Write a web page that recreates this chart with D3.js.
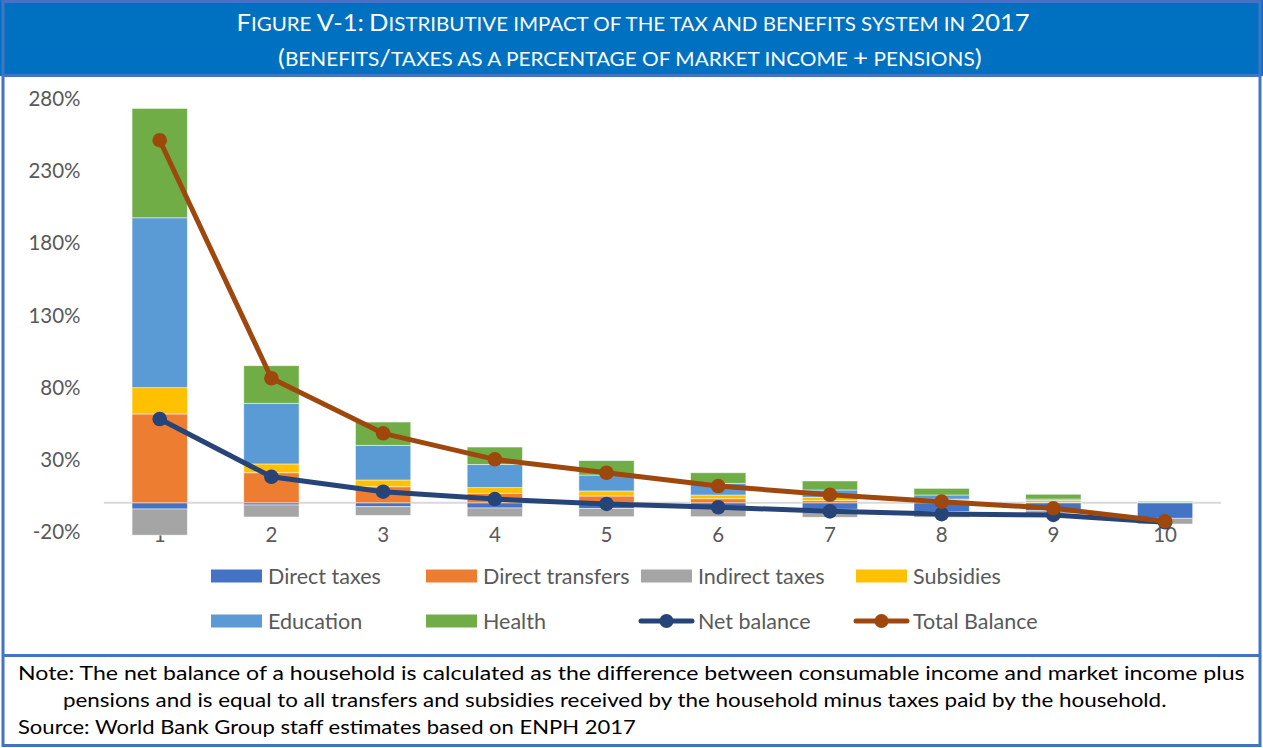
<!DOCTYPE html>
<html>
<head>
<meta charset="utf-8">
<script src="https://cdn.jsdelivr.net/npm/d3@7"></script>
<style>
  body { margin: 0; background: #fff; }
  svg { display: block; }
  text { font-family: Lato, "Open Sans", sans-serif; }
</style>
</head>
<body>
<svg id="chart" width="1263" height="748"></svg>
<script>
// Income deciles
const categories = ["1", "2", "3", "4", "5", "6", "7", "8", "9", "10"];

// Components, % of market income + pensions
const directTaxes     = [-4.3, -1.5, -2.7, -3.6, -4.0, -3.1, -4.5, -6.2, -5.5, -10.7];
const directTransfers = [61.5, 20.8, 11.1, 6.6, 4.7, 2.8, 1.5, 1.5, 0.3, 0.0];
const indirectTaxes   = [-18.1, -8.3, -6.0, -6.0, -5.6, -6.5, -5.5, -3.8, -1.8, -4.0];
const subsidies       = [18.2, 6.1, 4.7, 3.9, 3.5, 2.6, 2.3, 1.1, 1.4, 0.1];
const education       = [117.6, 42.0, 24.0, 16.1, 11.0, 8.1, 5.1, 2.8, 0.9, 0.2];
const health          = [75.7, 26.0, 16.1, 12.0, 10.0, 7.3, 6.2, 4.6, 3.3, 0.7];

// Balances
const netBalance   = [58.0, 18.0, 7.7, 2.6, -0.8, -3.1, -5.9, -7.8, -8.4, -13.5];
const totalBalance = [251.0, 86.2, 48.1, 30.1, 20.8, 11.6, 5.6, 0.8, -3.8, -12.8];

const yTicks = [-20, 30, 80, 130, 180, 230, 280];

const barSeries = [
  { name: "Direct taxes",     values: directTaxes,     color: "#4472C4" },
  { name: "Direct transfers", values: directTransfers, color: "#ED7D31" },
  { name: "Indirect taxes",   values: indirectTaxes,   color: "#A5A5A5" },
  { name: "Subsidies",        values: subsidies,       color: "#FFC000" },
  { name: "Education",        values: education,       color: "#5B9BD5" },
  { name: "Health",           values: health,          color: "#70AD47" }
];
const lineSeries = [
  { name: "Net balance",   values: netBalance,   color: "#264478" },
  { name: "Total Balance", values: totalBalance, color: "#9E480E" }
];

const titleLines = [
  "Figure V-1: Distributive impact of the tax and benefits system in 2017",
  "(benefits/taxes as a percentage of market income + pensions)"
];
const noteLines = [
  "Note: The net balance of a household is calculated as the difference between consumable income and market income plus",
  "pensions and is equal to all transfers and subsidies received by the household minus taxes paid by the household.",
  "Source: World Bank Group staff estimates based on ENPH 2017"
];

const svg = d3.select("#chart");
const W = 1263, H = 748;

// ---- Frame and title band ----
svg.append("rect").attr("x", 0).attr("y", 0).attr("width", W).attr("height", 76)
  .attr("fill", "#0070C0");
svg.append("line").attr("x1", 2).attr("x2", 1261).attr("y1", 75.5).attr("y2", 75.5)
  .attr("stroke", "#4472C4").attr("stroke-width", 3);
svg.append("rect").attr("x", 3).attr("y", 1.5).attr("width", 1257).attr("height", 744)
  .attr("fill", "none").attr("stroke", "#4472C4").attr("stroke-width", 3);
svg.append("line").attr("x1", 2).attr("x2", 1261).attr("y1", 655.5).attr("y2", 655.5)
  .attr("stroke", "#4472C4").attr("stroke-width", 3);

// Horizontally stretch a text element to span [left, right]
function fitWidth(t, left, right) {
  const bb = t.node().getBBox();
  const sx = (right - left) / bb.width;
  t.attr("transform", `translate(${left},0) scale(${sx},1) translate(${-bb.x},0)`);
  return sx;
}

// Small-caps title: capitals/digits full size, lowercase as smaller capitals
function smallCapsText(parent, str, y, big, small, left, right) {
  const t = parent.append("text").attr("x", 0).attr("y", y)
    .attr("fill", "#fff").attr("font-weight", 400);
  let run = "", runSmall = null;
  const flush = () => {
    if (run) t.append("tspan").attr("font-size", runSmall ? small : big).text(run);
    run = "";
  };
  for (const ch of str) {
    const isSmall = ch !== ch.toUpperCase() || ch === " ";
    if (runSmall !== null && isSmall !== runSmall) flush();
    runSmall = isSmall;
    run += isSmall ? ch.toUpperCase() : ch;
  }
  flush();
  fitWidth(t, left, right);
  return t;
}

smallCapsText(svg, titleLines[0], 31.5, 23, 18.5, 236.5, 1030);
smallCapsText(svg, titleLines[1], 66, 23, 18.5, 278, 982);

// ---- Scales ----
const x = d3.scaleBand().domain(categories)
  .range([103.85, 1220.9]).paddingInner(0.505).paddingOuter(0.2525);
const y = d3.scaleLinear().domain([-20, 280]).range([531.7, 98.3]);

// Value axis labels (no axis line)
const yAxis = d3.axisLeft(y).tickValues(yTicks).tickSize(0).tickPadding(0)
  .tickFormat(d => d + "%");
const yg = svg.append("g").attr("transform", "translate(80.5,0)").call(yAxis);
yg.select(".domain").remove();
yg.selectAll("text").attr("font-size", 20.5).attr("fill", "#595959")
  .attr("font-family", "Lato, 'Open Sans', sans-serif").attr("dy", "0.35em");

// Category labels
const xAxis = d3.axisBottom(x).tickSize(0).tickPadding(0);
const xg = svg.append("g").attr("transform", "translate(0,527.5)").call(xAxis);
xg.select(".domain").remove();
xg.selectAll("text").attr("font-size", 20.5).attr("fill", "#595959")
  .attr("font-family", "Lato, 'Open Sans', sans-serif").attr("dy", "0.71em");

// Zero line
svg.append("line")
  .attr("x1", x.range()[0]).attr("x2", x.range()[1])
  .attr("y1", y(0)).attr("y2", y(0))
  .attr("stroke", "#D9D9D9").attr("stroke-width", 2);

// ---- Stacked bars ----
const rows = categories.map((c, i) => {
  const r = { cat: c };
  barSeries.forEach(s => { r[s.name] = s.values[i]; });
  return r;
});
const stack = d3.stack().keys(barSeries.map(s => s.name)).offset(d3.stackOffsetDiverging);
const layers = stack(rows);

svg.append("g").selectAll("g").data(layers).join("g")
  .attr("fill", (d, i) => barSeries[i].color)
  .selectAll("rect").data(d => d).join("rect")
  .attr("x", d => x(d.data.cat))
  .attr("width", x.bandwidth())
  .attr("y", d => y(Math.max(d[0], d[1])))
  .attr("height", d => Math.abs(y(d[0]) - y(d[1])))
  .attr("stroke", "#ffffff").attr("stroke-opacity", 0.6).attr("stroke-width", 0.8);

// ---- Balance lines ----
const cx = i => x(categories[i]) + x.bandwidth() / 2;
lineSeries.forEach(s => {
  const g = svg.append("g");
  g.append("path")
    .attr("d", d3.line().x((d, i) => cx(i)).y(d => y(d))(s.values))
    .attr("fill", "none").attr("stroke", s.color).attr("stroke-width", 5)
    .attr("stroke-linejoin", "round").attr("stroke-linecap", "round");
  g.selectAll("circle").data(s.values).join("circle")
    .attr("cx", (d, i) => cx(i)).attr("cy", d => y(d)).attr("r", 7.3)
    .attr("fill", s.color);
});

// ---- Legend ----
const legendItems = barSeries.map(s => ({ name: s.name, color: s.color, type: "bar" }))
  .concat(lineSeries.map(s => ({ name: s.name, color: s.color, type: "line" })));
const legX0 = 211, legStepX = 215, legY0 = 576, legStepY = 45;
const leg = svg.append("g");
legendItems.forEach((it, i) => {
  const gx = legX0 + (i % 4) * legStepX;
  const gy = legY0 + Math.floor(i / 4) * legStepY;
  const g = leg.append("g").attr("transform", `translate(${gx},${gy})`);
  if (it.type === "bar") {
    g.append("rect").attr("x", 0).attr("y", -6.5).attr("width", 51).attr("height", 13)
      .attr("fill", it.color);
  } else {
    g.append("line").attr("x1", 0).attr("x2", 51).attr("y1", 0).attr("y2", 0)
      .attr("stroke", it.color).attr("stroke-width", 5).attr("stroke-linecap", "round");
    g.append("circle").attr("cx", 25.5).attr("cy", 0).attr("r", 7).attr("fill", it.color);
  }
  g.append("text").attr("x", 57).attr("y", 0).attr("dy", "0.35em")
    .attr("font-size", 21.5).attr("fill", "#595959").text(it.name);
});

// ---- Note ----
const n1 = svg.append("text").attr("y", 680).attr("font-size", 18.5).attr("fill", "#000").text(noteLines[0]);
fitWidth(n1, 18, 1245);
const n2 = svg.append("text").attr("y", 707).attr("font-size", 18.5).attr("fill", "#000").text(noteLines[1]);
fitWidth(n2, 63, 1167);
const n3 = svg.append("text").attr("y", 734).attr("font-size", 18.5).attr("fill", "#000").text(noteLines[2]);
fitWidth(n3, 18, 636);
</script>
</body>
</html>
